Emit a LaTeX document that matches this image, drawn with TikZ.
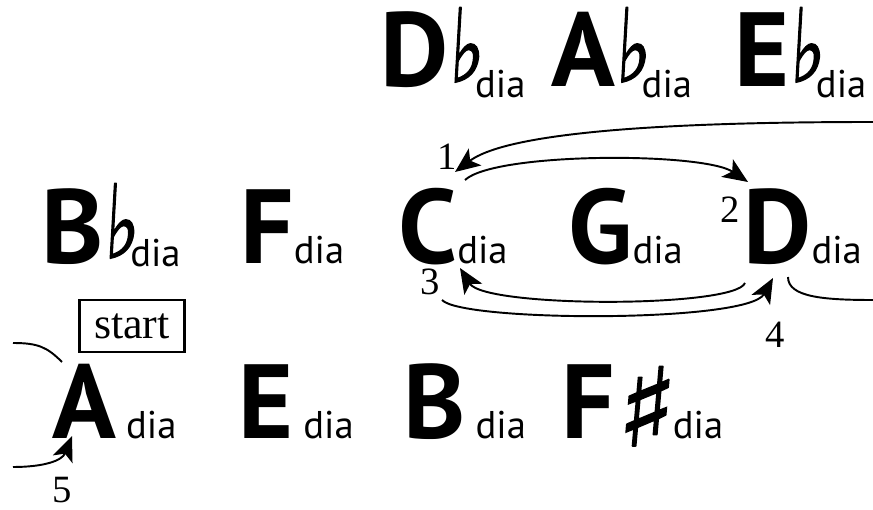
\documentclass[tikz,border=0pt]{standalone}
\usepackage{fontspec}
\setmainfont{Liberation Serif}
\newfontfamily\keyfont{PT Sans}
\newfontfamily\accfont{DejaVu Sans}[FakeBold=1.5, FakeSlant=0.08]
\usetikzlibrary{arrows.meta,calc}

\newcommand\dia{{\keyfont\mdseries\fontsize{22}{22}\selectfont dia}}
\newcommand\flt[1]{\raisebox{0.1cm}{\scalebox{0.72}[1]{\accfont\mdseries\fontsize{58}{58}\selectfont ♭}}\kern-0.16cm\raisebox{-#1}{\dia}}
\newcommand\shp{\raisebox{-0.16cm}{\scalebox{1.1}[1]{\accfont\mdseries\fontsize{62}{62}\selectfont ♯}}\dia}
\newcommand\gapdia{\kern0.2cm\dia}

\tikzset{
  key/.style={anchor=base west, inner sep=0pt, font=\keyfont\bfseries\fontsize{60}{60}\selectfont},
  num/.style={inner sep=0pt, font=\fontsize{22}{22}\selectfont},
  link/.style={line width=1.1pt, -{Stealth[length=0.5cm, width=0.42cm, inset=0.12cm]}},
  tail/.style={line width=1.1pt}
}

\begin{document}
\begin{tikzpicture}[x=0.02cm, y=-0.02cm]
\useasboundingbox (0,0) rectangle (873,510);

% top row
\node[key] (Dflat) at (380,87) {D\flt{0.22cm}};
\node[key] (Aflat) at (551,87) {A\flt{0.22cm}};
\node[key] (Eflat) at (734,87) {E\flt{0.22cm}};

% middle row
\node[key] (Bflat) at (41,263) {B\flt{0.06cm}};
\node[key] (F) at (240,263) {F\dia};
\node[key] (C) at (398,263) {C\dia};
\node[key] (G) at (568,263) {G\dia};
\node[key] (D) at (743,263) {D\dia};

% bottom row
\node[key] (A) at (52,438) {A\gapdia};
\node[key] (E) at (238,438) {E\gapdia};
\node[key] (B) at (403,438) {B\gapdia};
\node[key] (Fsharp) at (561,438) {F\shp};

\node[draw, line width=1.6pt, minimum width=2.1cm, minimum height=1.04cm, inner sep=0pt,
  font=\fontsize{25}{25}\selectfont] (start) at (132,326) {start};

% free ends at the edges
\coordinate (eastin) at (873,122);
\coordinate (eastout) at (873,300);
\coordinate (westout) at (13,343);
\coordinate (westin) at (13,467);

\draw[link] (eastin) .. controls +(-150,0) and +(60,-45) .. ($(C.base west)+(57,-91)$);
\draw[link] ($(C.base west)+(67,-83)$) .. controls +(30,-28) and +(-45,-30) .. ($(D.base west)+(5,-81)$);
\draw[link] ($(D.base west)+(2,20)$) .. controls +(-10,25) and +(25,40) .. ($(C.base west)+(62,5)$);
\draw[link] ($(C.base west)+(44,37)$) .. controls +(20,22) and +(-25,45) .. ($(D.base west)+(30,15)$);
\draw[tail] ($(D.base west)+(45,14)$) .. controls +(0,20) and +(-50,0) .. (eastout);
\draw[tail] (westout) .. controls +(25,0) and +(-15,-15) .. ($(A.base west)+(10,-76)$);
\draw[link] (westin) .. controls +(30,0) and +(-10,25) .. ($(A.base west)+(20,-2)$);

\node[num] (n1) at (447,157) {1};
\node[num] (n2) at (730,210) {2};
\node[num] (n3) at (430,282) {3};
\node[num] (n4) at (775,335) {4};
\node[num] (n5) at (62,490) {5};
\end{tikzpicture}
\end{document}
